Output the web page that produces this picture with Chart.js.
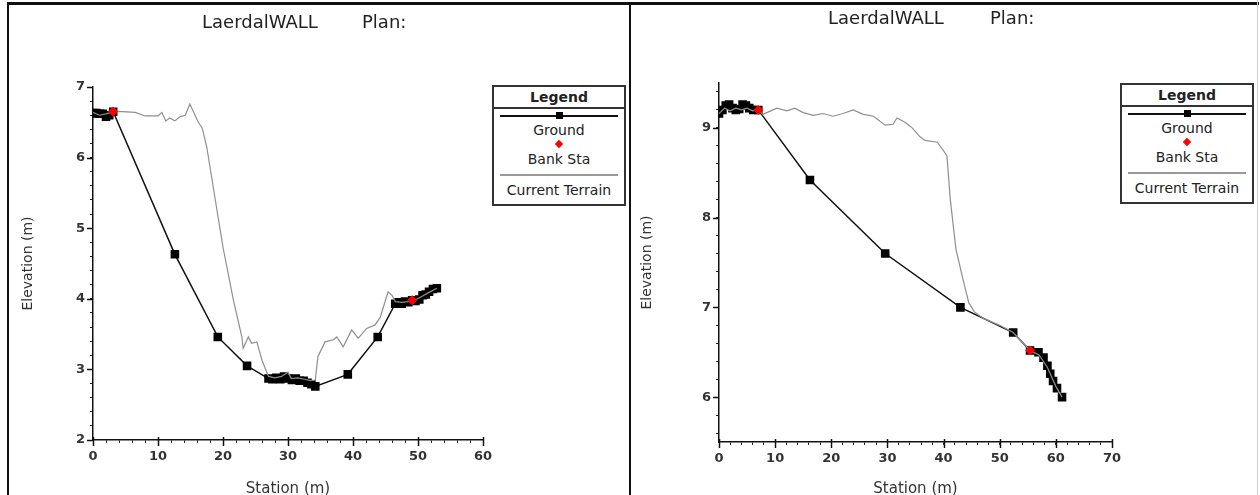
<!DOCTYPE html>
<html>
<head>
<meta charset="utf-8">
<script src="https://cdn.jsdelivr.net/npm/chart.js@4.4.1/dist/chart.umd.min.js"></script>
<style>
  body { margin: 0; background: white; font-family: "DejaVu Sans", sans-serif; }
  #page { position: relative; width: 1260px; height: 495px; overflow: hidden; background: white; }
  canvas { position: absolute; top: 0; }
  .line { position: absolute; background: #111; }
  .title { position: absolute; font-size: 18px; color: #222; white-space: pre; line-height: 20px; }
  .legend { position: absolute; width: 130px; height: 117px; border: 2px solid #333; background: white; color: #222; font-size: 14px; text-align: center; }
  .legend .head { height: 20px; line-height: 20px; border-bottom: 2px solid #333; font-weight: bold; }
  .legend .txt { position: absolute; left: 0; width: 100%; line-height: 15px; }
  .legend .sym { position: absolute; }
</style>
</head>
<body>
<div id="page">
  <canvas id="leftChart" width="630" height="495" style="left:0"></canvas>
  <canvas id="rightChart" width="629" height="495" style="left:631px"></canvas>
  <div class="line" style="left:7px;top:2px;width:1252px;height:3px"></div>
  <div class="line" style="left:7px;top:2px;width:2px;height:493px"></div>
  <div class="line" style="left:629px;top:2px;width:2px;height:493px"></div>
  <div class="line" style="left:1257px;top:0;width:1px;height:495px;background:#ccc"></div>
  <div class="title" style="left:202px;top:12px">LaerdalWALL</div>
  <div class="title" style="left:362px;top:12px">Plan:</div>
  <div class="title" style="left:828px;top:8px">LaerdalWALL</div>
  <div class="title" style="left:990px;top:8px">Plan:</div>
</div>
<script>
// seccion izquierda
const leftGroundSta = [0, 0.5, 1, 1.5, 2, 2.5, 3.1, 12.6, 19.2, 23.7, 27, 27.6, 28.2, 28.8, 29.4, 30, 30.6, 31.2, 31.8, 32.4, 33, 33.6, 34.2, 39.2, 43.8, 46.5, 47, 47.5, 48, 48.5, 49.1, 49.6, 50.2, 50.7, 51.2, 51.7, 52.3, 52.9]
const leftGroundElev = [6.63, 6.63, 6.62, 6.62, 6.58, 6.6, 6.65, 4.63, 3.46, 3.05, 2.87, 2.86, 2.88, 2.86, 2.9, 2.87, 2.85, 2.87, 2.84, 2.84, 2.81, 2.79, 2.76, 2.93, 3.46, 3.93, 3.95, 3.93, 3.96, 3.95, 3.98, 3.97, 3.99, 4.05, 4.06, 4.1, 4.14, 4.15]
const leftBankSta = [3.1, 49.1]
const leftBankElev = [6.65, 3.98]
const leftTerrainSta = [0, 1, 2, 3.1, 4.6, 6.5, 8, 10, 10.6, 11.2, 11.8, 12.6, 13.4, 14.2, 14.9, 16.2, 16.8, 17.5, 18.5, 20, 21.6, 22.9, 23.1, 23.9, 24.4, 25.2, 26, 27, 28, 29, 30, 30.5, 31.5, 32.5, 33.5, 34.2, 34.6, 35.7, 37, 37.5, 38.5, 39.8, 40.8, 42.1, 43.4, 44.2, 45, 45.4, 46, 46.5, 47.5, 48.5, 49.5, 50.5, 51.5, 52.9]
const leftTerrainElev = [6.64, 6.6, 6.62, 6.65, 6.65, 6.64, 6.59, 6.59, 6.64, 6.52, 6.56, 6.52, 6.58, 6.6, 6.76, 6.5, 6.42, 6.15, 5.58, 4.73, 3.98, 3.46, 3.3, 3.46, 3.37, 3.39, 3.13, 2.9, 2.88, 2.9, 2.96, 2.87, 2.88, 2.86, 2.84, 2.85, 3.18, 3.39, 3.42, 3.46, 3.32, 3.56, 3.44, 3.58, 3.63, 3.74, 3.98, 4.1, 4.05, 3.96, 3.95, 3.96, 3.98, 4.03, 4.08, 4.15]

// seccion derecha
const rightGroundSta = [0, 0.6, 1.2, 1.8, 2.4, 3, 3.6, 4.2, 4.8, 5.4, 6.1, 7, 16.2, 29.6, 43, 52.4, 55.4, 56.9, 57.8, 58.5, 59, 59.5, 60.2, 61.1]
const rightGroundElev = [9.16, 9.2, 9.25, 9.26, 9.22, 9.2, 9.21, 9.26, 9.25, 9.22, 9.2, 9.2, 8.42, 7.6, 7.0, 6.72, 6.52, 6.5, 6.44, 6.35, 6.26, 6.18, 6.1, 6.0]
const rightBankSta = [7, 55.4]
const rightBankElev = [9.2, 6.52]
const rightTerrainSta = [0, 1, 2, 3, 4, 5, 6, 7, 7.8, 10.3, 12.1, 13.5, 15, 16.8, 18.5, 20.3, 22.1, 23.9, 25.7, 27.5, 29.6, 31, 31.7, 33.2, 34.4, 35.8, 36.7, 38.9, 40.6, 41.2, 42.2, 43.5, 44.5, 45.5, 47, 50, 52.4, 55.4, 57, 58.5, 60, 61.1]
const rightTerrainElev = [9.16, 9.22, 9.19, 9.22, 9.2, 9.22, 9.19, 9.2, 9.15, 9.22, 9.19, 9.22, 9.17, 9.14, 9.16, 9.13, 9.16, 9.2, 9.15, 9.13, 9.03, 9.04, 9.11, 9.06, 9.0, 8.9, 8.86, 8.84, 8.69, 8.2, 7.65, 7.3, 7.05, 6.95, 6.88, 6.8, 6.72, 6.52, 6.47, 6.33, 6.12, 6.0]

function pts (xs, ys) {
    return xs.map((x, i) => ({x: x, y: ys[i]}))
}

function isWhole (v) {
    return Math.abs(v - Math.round(v)) < 1e-6
}

// marcas de eje: menores cada "step"
function tickList (min, max, step) {
    const out = []
    const start = Math.ceil(min / step - 1e-9)
    for (let k = start; k * step <= max + 1e-9; k++) {
        out.push({value: Math.round(k * step * 1000) / 1000})
    }
    return out
}

// alarga las marcas mayores hacia afuera
const majorTicks = {
    id: "majorTicks",
    afterDraw (chart) {
        const ctx = chart.ctx
        const area = chart.chartArea
        ctx.save()
        ctx.strokeStyle = "#111"
        ctx.lineWidth = 1.5
        const xs = chart.scales.x
        xs.ticks.forEach(t => {
            if (!isWhole(t.value / 10)) return
            const px = Math.round(xs.getPixelForValue(t.value)) + 0.5
            ctx.beginPath()
            ctx.moveTo(px, area.bottom - 3)
            ctx.lineTo(px, area.bottom + 6)
            ctx.stroke()
        })
        const ys = chart.scales.y
        ys.ticks.forEach(t => {
            if (!isWhole(t.value)) return
            const py = Math.round(ys.getPixelForValue(t.value)) + 0.5
            ctx.beginPath()
            ctx.moveTo(area.left - 6, py)
            ctx.lineTo(area.left, py)
            ctx.stroke()
        })
        ctx.restore()
    }
}

function makeChart (id, opts) {
    const tickFont = {family: "DejaVu Sans", size: 13, weight: "bold"}
    const grid = {
        drawOnChartArea: false,
        tickLength: 3,
        tickColor: "#222",
        tickWidth: 1
    }
    new Chart(document.getElementById(id), {
        type: "line",
        data: {
            datasets: [
                {
                    label: "Bank Sta",
                    data: pts(opts.bankX, opts.bankY),
                    showLine: false,
                    pointStyle: "rectRot",
                    pointRadius: 4.5,
                    pointBackgroundColor: "#ff0000",
                    pointBorderColor: "#ff0000",
                    order: 1
                },
                {
                    label: "Current Terrain",
                    data: pts(opts.terrX, opts.terrY),
                    borderColor: "#8f8f8f",
                    borderWidth: 1.2,
                    pointRadius: 0,
                    order: 2
                },
                {
                    label: "Ground",
                    data: pts(opts.groundX, opts.groundY),
                    borderColor: "#111",
                    borderWidth: 1.5,
                    pointStyle: "rect",
                    pointRadius: 5,
                    pointBackgroundColor: "#000",
                    pointBorderColor: "#000",
                    order: 3
                }
            ]
        },
        options: {
            responsive: false,
            animation: false,
            devicePixelRatio: 1,
            layout: {padding: {left: 0, top: opts.top, right: opts.right, bottom: 0}},
            plugins: {legend: {display: false}, tooltip: {enabled: false}},
            scales: {
                x: {
                    type: "linear",
                    min: 0, max: opts.xMax,
                    border: {color: "#111", width: 1.5},
                    grid: grid,
                    afterBuildTicks: s => { s.ticks = tickList(0, opts.xMax, 2) },
                    ticks: {
                        autoSkip: false, maxRotation: 0,
                        font: tickFont, color: "#333", padding: 6,
                        callback: v => isWhole(v / 10) ? v : ""
                    },
                    title: {display: true, text: "Station (m)", font: {family: "DejaVu Sans", size: 15}, color: "#333", padding: {top: 13, bottom: -3}},
                    afterFit: s => { s.height = opts.xH }
                },
                y: {
                    type: "linear",
                    min: opts.yMin, max: opts.yMax,
                    border: {color: "#111", width: 1.5},
                    grid: grid,
                    afterBuildTicks: s => { s.ticks = tickList(opts.yMin, opts.yMax, 0.2) },
                    ticks: {
                        autoSkip: false,
                        font: tickFont, color: "#333", padding: 5,
                        callback: v => isWhole(v) ? Math.round(v) : ""
                    },
                    title: {display: true, text: "Elevation (m)", font: {family: "DejaVu Sans", size: 14}, color: "#333", padding: {top: opts.yTitlePad, bottom: 0}},
                    afterFit: s => { s.width = opts.yW }
                }
            }
        },
        plugins: [majorTicks]
    })
}

makeChart("leftChart", {
    groundX: leftGroundSta, groundY: leftGroundElev,
    bankX: leftBankSta, bankY: leftBankElev,
    terrX: leftTerrainSta, terrY: leftTerrainElev,
    xMax: 60, yMin: 2, yMax: 7,
    top: 87, right: 147, xH: 55, yW: 93, yTitlePad: 20
})

makeChart("rightChart", {
    groundX: rightGroundSta, groundY: rightGroundElev,
    bankX: rightBankSta, bankY: rightBankElev,
    terrX: rightTerrainSta, terrY: rightTerrainElev,
    xMax: 70, yMin: 5.5, yMax: 9.5,
    top: 83, right: 148, xH: 53, yW: 88, yTitlePad: 8
})

// cajas de leyenda en html
function makeLegend (left, top) {
    const box = document.createElement("div")
    box.className = "legend"
    box.style.left = left + "px"
    box.style.top = top + "px"
    box.innerHTML =
        '<div class="head">Legend</div>' +
        '<div class="sym" style="left:6px;top:28px;width:118px;height:2px;background:#111"></div>' +
        '<div class="sym" style="left:62px;top:25px;width:7px;height:7px;background:#000"></div>' +
        '<div class="txt" style="top:36px">Ground</div>' +
        '<div class="sym" style="left:62px;top:54px;width:6px;height:6px;background:#f00;transform:rotate(45deg)"></div>' +
        '<div class="txt" style="top:65px">Bank Sta</div>' +
        '<div class="sym" style="left:6px;top:87px;width:118px;height:2px;background:#999"></div>' +
        '<div class="txt" style="top:96px">Current Terrain</div>'
    document.getElementById("page").appendChild(box)
}
makeLegend(492, 85)
makeLegend(1120, 83)
</script>
</body>
</html>
